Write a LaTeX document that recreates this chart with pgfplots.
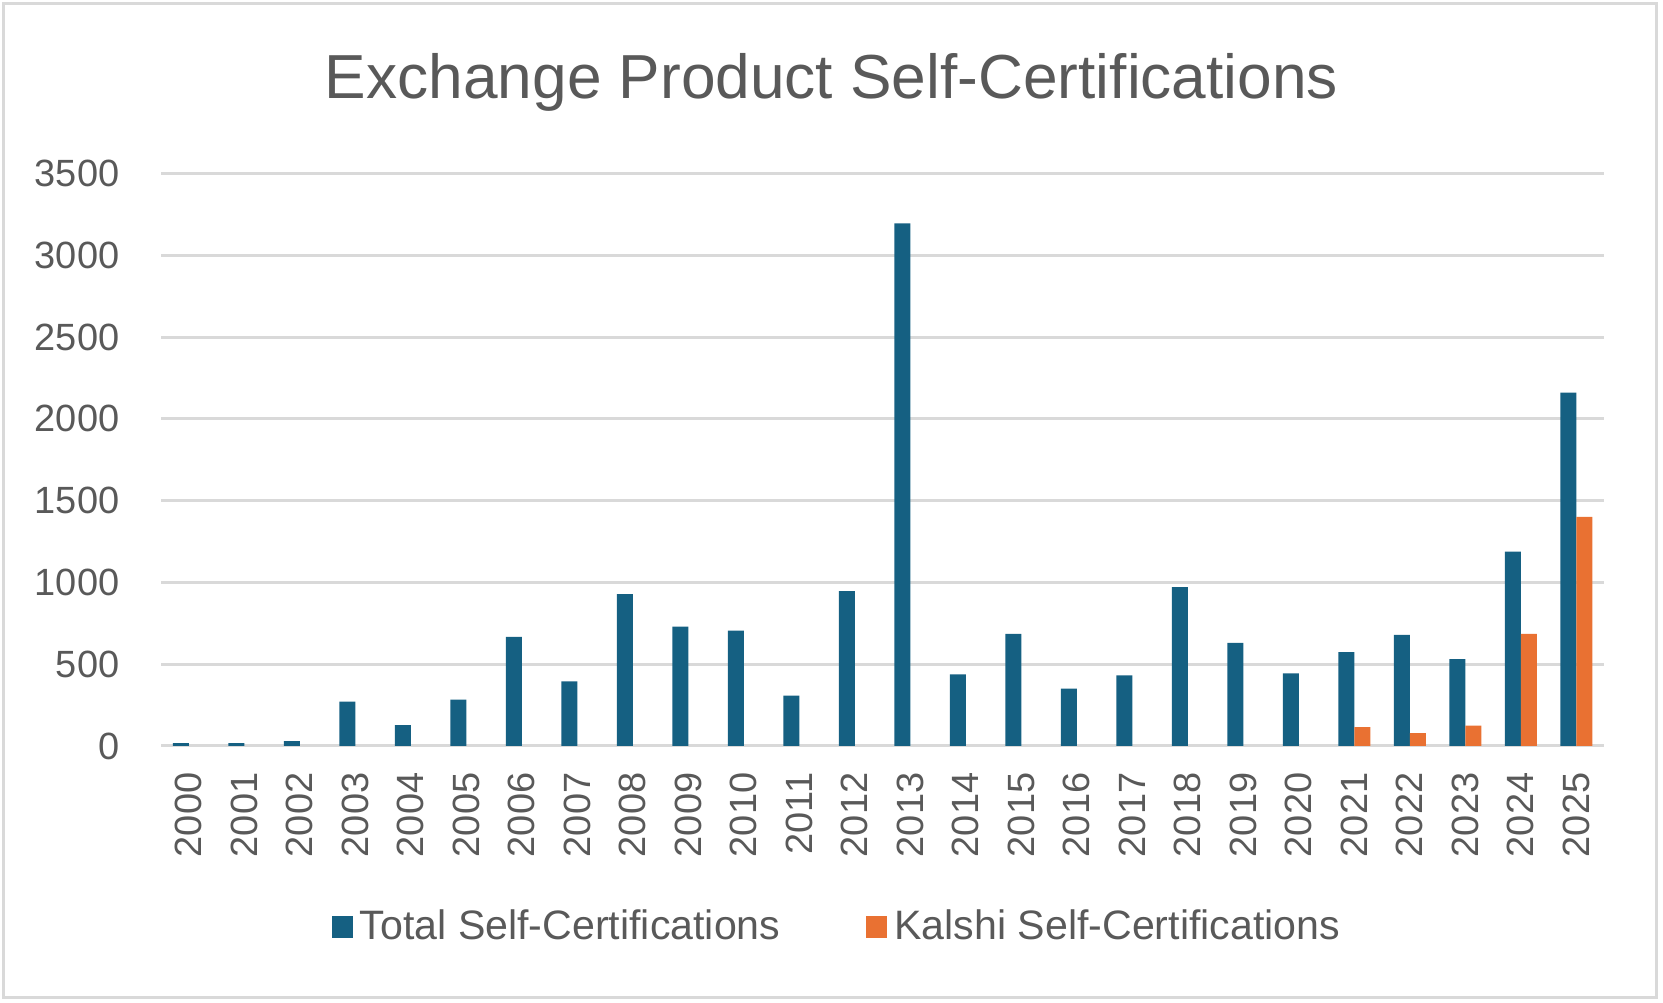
\documentclass[border=0pt]{standalone}
\usepackage{pgfplots}
\pgfplotsset{compat=1.18}
\usepackage{fontspec}
\setmainfont{Liberation Sans}
\definecolor{tblue}{HTML}{156082}
\definecolor{korange}{HTML}{E97132}
\definecolor{txtgray}{HTML}{595959}
\definecolor{gridgray}{HTML}{D9D9D9}
\begin{document}
\begin{tikzpicture}
\path[use as bounding box] (0,0) rectangle (166.3mm,100.3mm);
\draw[gridgray, line width=0.3mm] (0.4mm,0.5mm) rectangle (165.6mm,99.9mm);
\node[anchor=base, text=txtgray, font=\fontsize{17.7pt}{20pt}\selectfont, inner sep=0pt] at (83.15mm,90.4mm) {Exchange Product Self-Certifications};
\begin{axis}[
  at={(16.1mm,25.7mm)}, anchor=south west,
  scale only axis, width=144.3mm, height=57.25mm,
  ybar=0pt, bar width=1.6mm,
  xmin=-0.5, xmax=25.5, ymin=0, ymax=3500,
  xtick={0,...,25},
  xticklabels={2000,2001,2002,2003,2004,2005,2006,2007,2008,2009,2010,2011,2012,2013,2014,2015,2016,2017,2018,2019,2020,2021,2022,2023,2024,2025},
  ytick={0,500,...,3500},
  scaled y ticks=false,
  /pgf/number format/1000 sep={},
  /pgf/number format/assume math mode=true,
  axis line style={draw=none},
  major tick length=0pt,
  ymajorgrids,
  grid style={gridgray, line width=0.3mm},
  tick label style={text=txtgray, font=\fontsize{10.8pt}{13pt}\selectfont},
  yticklabel style={anchor=east, inner sep=0pt, xshift=-4.1mm},
  xticklabel style={yshift=-2.6mm, rotate=90, anchor=east, inner sep=0pt},
  legend columns=2,
  legend style={at={(0.4702,-0.3168)}, anchor=center, draw=none, fill=none,
    font=\fontsize{11.7pt}{13pt}\selectfont, text=txtgray,
    /tikz/every even column/.append style={column sep=7.9mm}},
  legend image code/.code={\fill[#1] (0mm,-1.1mm) rectangle (2.1mm,1.1mm);},
]
\addplot[fill=tblue, draw=none] coordinates {
(0,18) (1,18) (2,30) (3,271) (4,128) (5,283) (6,667) (7,395) (8,928) (9,729)
(10,705) (11,308) (12,946) (13,3195) (14,438) (15,686) (16,351) (17,432) (18,971) (19,630)
(20,444) (21,574) (22,680) (23,531) (24,1188) (25,2160)};
\addlegendentry{Total Self-Certifications}
\addplot[fill=korange, draw=none] coordinates {
(21,116) (22,79) (23,124) (24,686) (25,1400)};
\addlegendentry{Kalshi Self-Certifications}
\end{axis}
\end{tikzpicture}
\end{document}
